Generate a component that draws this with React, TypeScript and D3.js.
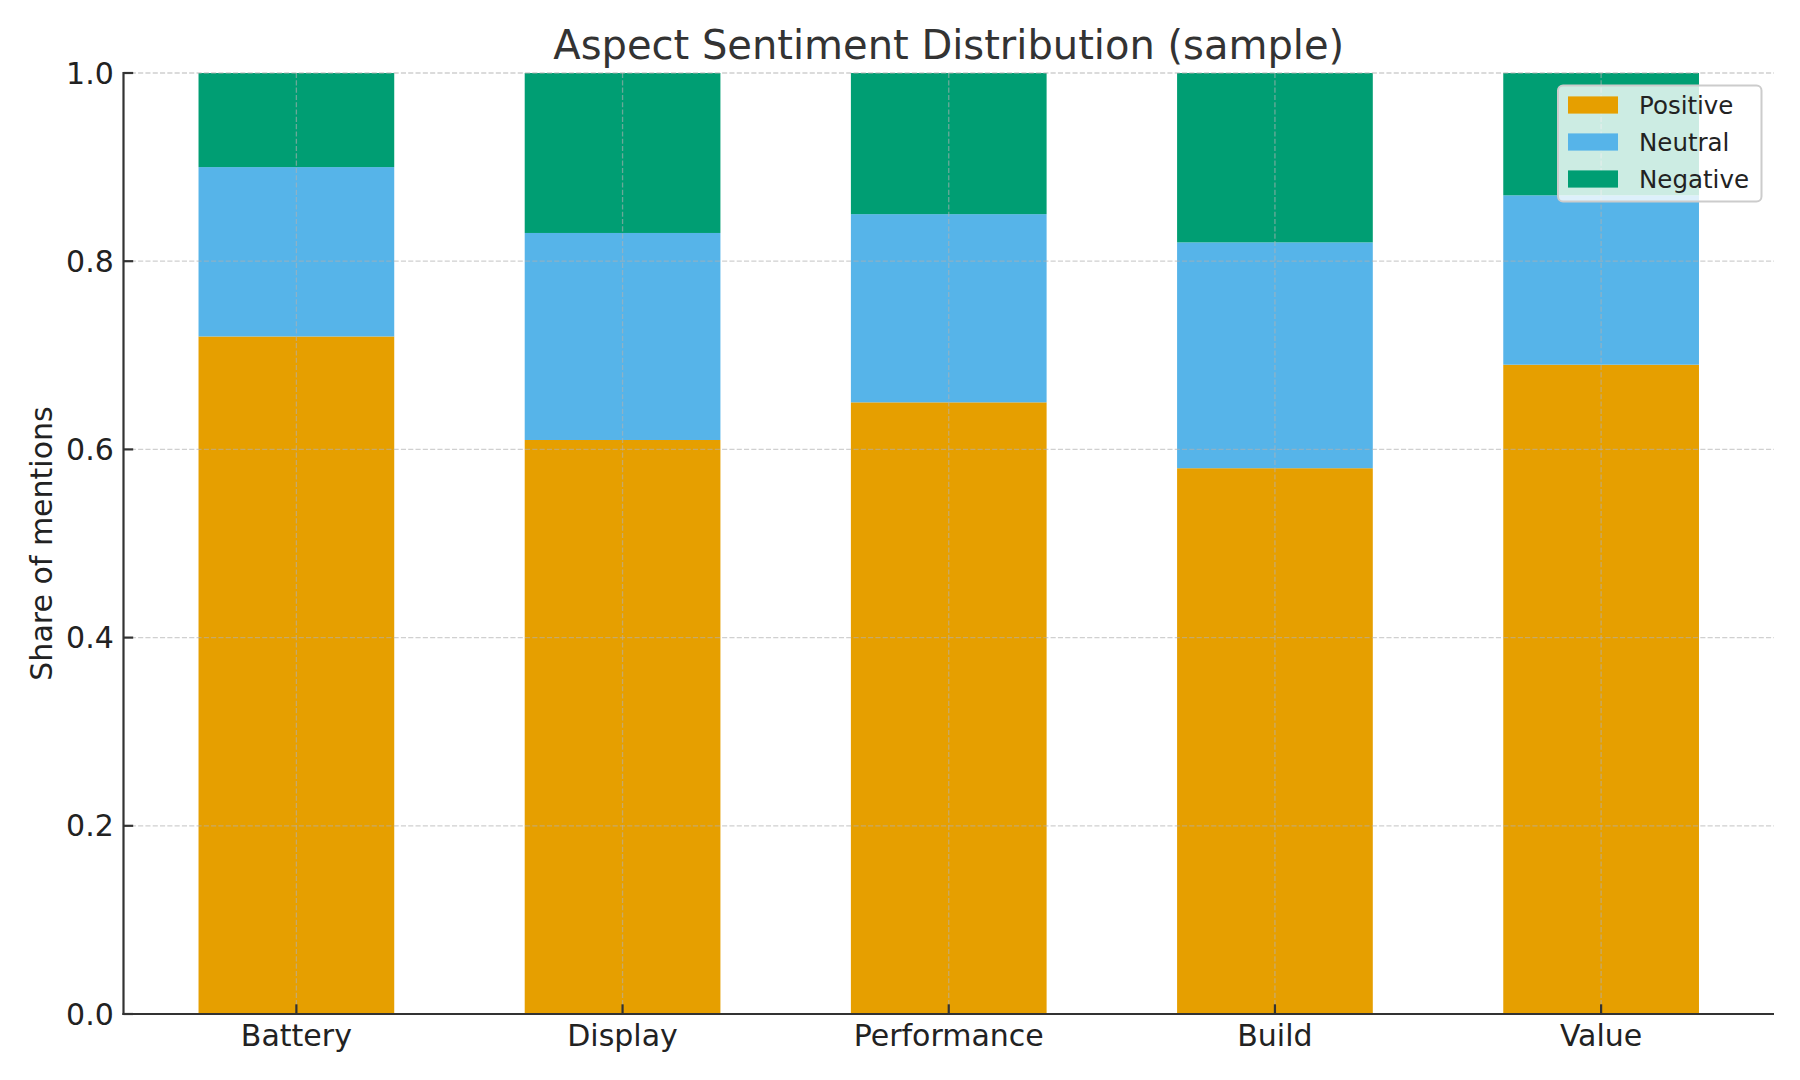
import React from "react";
import * as d3 from "d3";

const categories = ["Battery", "Display", "Performance", "Build", "Value"];
const positive = [0.72, 0.61, 0.65, 0.58, 0.69];
const neutral = [0.18, 0.22, 0.2, 0.24, 0.18];
const negative = [0.1, 0.17, 0.15, 0.18, 0.13];
const seriesNames = ["Positive", "Neutral", "Negative"];
const seriesColors = ["#E69F00", "#56B4E9", "#009E73"];
const yTicks = [0, 0.2, 0.4, 0.6, 0.8, 1.0];

const W = 1800;
const H = 1080;
const L = 123.5;
const R = 1774;
const T = 73;
const B = 1014;
const FONT = "DejaVu Sans, sans-serif";

export default function App() {
  const barW = 0.6;
  const x = d3.scaleLinear().domain([-0.53, 4.53]).range([L, R]);
  const y = d3.scaleLinear().domain([0, 1]).range([B, T]);

  const rows = categories.map((c, i) => ({
    cat: c,
    Positive: positive[i],
    Neutral: neutral[i],
    Negative: negative[i],
  }));
  const stack = d3.stack<any>().keys(seriesNames);
  const stacked = stack(rows);

  const gridStyle = {
    stroke: "#b0b0b0",
    strokeOpacity: 0.6,
    strokeWidth: 1.3,
    strokeDasharray: "5.1,2.2",
  };

  const tickLen = 9.7;
  const pad = 9.7;

  const legFont = 24.5;
  const legX = 1558;
  const legY = 85.5;
  const legW = 203.5;
  const legH = 116;
  const rowGap = 37;

  return (
    <svg
      width={W}
      height={H}
      style={{ position: "absolute", left: 0, top: 0, background: "#fff" }}
      fontFamily={FONT}
    >
      <rect x={0} y={0} width={W} height={H} fill="#fff" />
      {/* bars */}
      {stacked.map((s, si) => (
        <g key={s.key} fill={seriesColors[si]}>
          {s.map((d, i) => (
            <rect
              key={i}
              x={x(i - barW / 2)}
              width={x(i + barW / 2) - x(i - barW / 2)}
              y={y(d[1])}
              height={y(d[0]) - y(d[1])}
            />
          ))}
        </g>
      ))}
      {/* grid */}
      <g>
        {yTicks.map((t) => (
          <line key={"gy" + t} x1={L} x2={R} y1={y(t)} y2={y(t)} {...gridStyle} />
        ))}
        {categories.map((c, i) => (
          <line key={"gx" + c} x1={x(i)} x2={x(i)} y1={T} y2={B} {...gridStyle} />
        ))}
      </g>
      {/* spines */}
      <line x1={L} x2={L} y1={T - 1} y2={B + 1.1} stroke="#333" strokeWidth={2.2} />
      <line x1={L - 1.1} x2={R} y1={B} y2={B} stroke="#333" strokeWidth={2.2} />
      {/* y ticks */}
      {yTicks.map((t) => (
        <g key={"yt" + t}>
          <line x1={L} x2={L + tickLen} y1={y(t)} y2={y(t)} stroke="#333" strokeWidth={2.2} />
          <text
            x={L - pad}
            y={y(t)}
            textAnchor="end"
            dominantBaseline="central"
            fontSize={30}
            fill="#222"
          >
            {t.toFixed(1)}
          </text>
        </g>
      ))}
      {/* x ticks */}
      {categories.map((c, i) => (
        <g key={"xt" + c}>
          <line x1={x(i)} x2={x(i)} y1={B} y2={B - tickLen} stroke="#333" strokeWidth={2.2} />
          <text
            x={x(i)}
            y={B + pad + 22.5}
            textAnchor="middle"
            fontSize={30}
            fill="#222"
          >
            {c}
          </text>
        </g>
      ))}
      {/* y label */}
      <text
        transform={`translate(52, ${(T + B) / 2}) rotate(-90)`}
        textAnchor="middle"
        fontSize={30}
        fill="#222"
      >
        Share of mentions
      </text>
      {/* title */}
      <text x={(L + R) / 2} y={58.5} textAnchor="middle" fontSize={40} fill="#333">
        Aspect Sentiment Distribution (sample)
      </text>
      {/* legend */}
      <g>
        <rect
          x={legX}
          y={legY}
          width={legW}
          height={legH}
          rx={5}
          ry={5}
          fill="#fff"
          fillOpacity={0.8}
          stroke="#cccccc"
          strokeWidth={2}
        />
        {seriesNames.map((n, i) => {
          const cy = legY + 19.5 + i * rowGap;
          return (
            <g key={"lg" + n}>
              <rect x={legX + 10} y={cy - 8.6} width={50} height={17.2} fill={seriesColors[i]} />
              <text
                x={legX + 81}
                y={cy}
                dominantBaseline="central"
                fontSize={legFont}
                fill="#222"
              >
                {n}
              </text>
            </g>
          );
        })}
      </g>
    </svg>
  );
}
